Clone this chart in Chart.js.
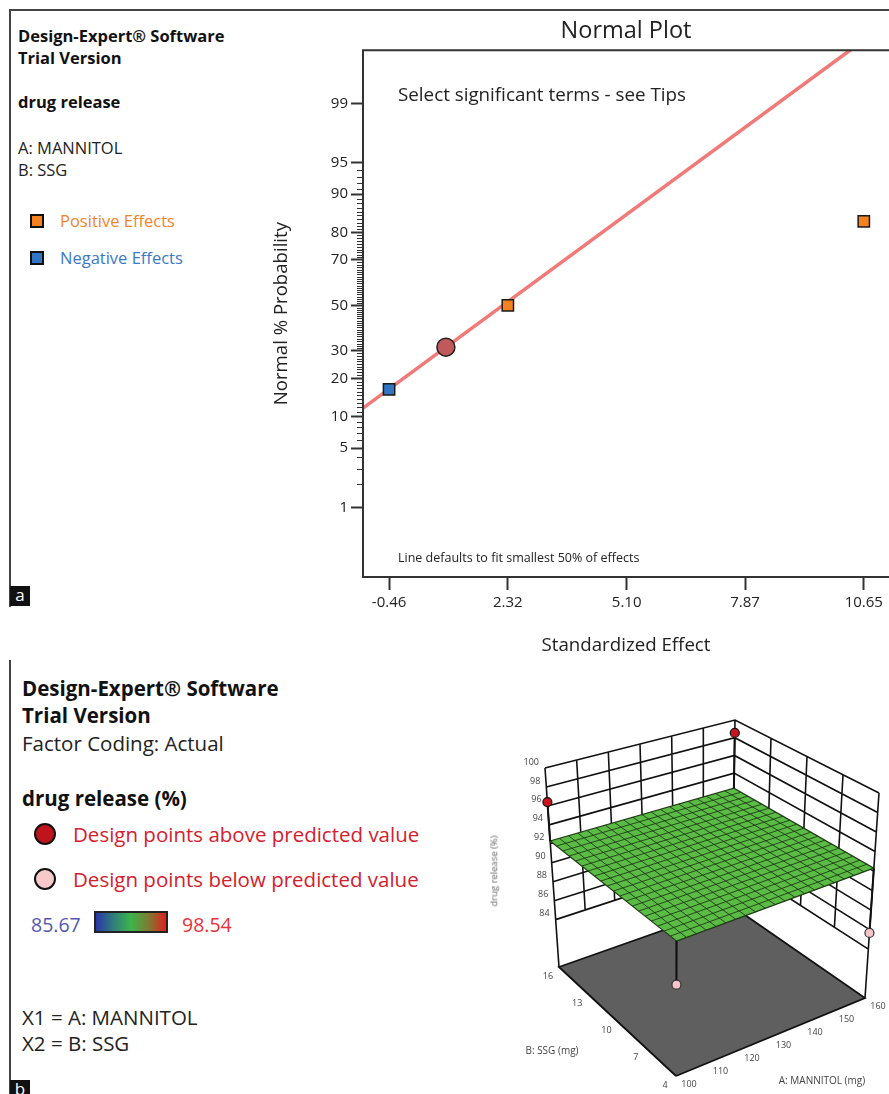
<!DOCTYPE html>
<html>
<head>
<meta charset="utf-8">
<script src="https://cdn.jsdelivr.net/npm/chart.js@4.4.1/dist/chart.umd.min.js"></script>
<style>
  body { margin: 0; background: #fff; font-family: "Open Sans", sans-serif; }
  #page { position: relative; width: 889px; height: 1094px; overflow: hidden; background: #fff; }
  .t { position: absolute; white-space: nowrap; line-height: 1; transform: translateY(-50%); color: #222; }
  .b { font-weight: bold; color: #111; }
  .sq { position: absolute; width: 14px; height: 14px; box-sizing: border-box; border: 2px solid #111; }
  .dot { position: absolute; width: 22px; height: 22px; box-sizing: border-box; border: 2.5px solid #111; border-radius: 50%; }
  .tag { position: absolute; width: 20px; height: 20px; background: #111; color: #fff; font-size: 17px; line-height: 17px; text-align: center; }
  canvas { position: absolute; }
</style>
</head>
<body>
<div id="page">
  <!-- panel a -->
  <div style="position:absolute;left:9px;top:9px;width:890px;height:596px;border-left:2px solid #444;border-top:2px solid #444;"></div>
  <div class="tag" style="left:10px;top:586px;">a</div>
  <div class="t b" style="left:18px;top:36px;font-size:16.5px;">Design-Expert® Software</div>
  <div class="t b" style="left:18px;top:58px;font-size:16.5px;">Trial Version</div>
  <div class="t b" style="left:18px;top:102px;font-size:16.5px;">drug release</div>
  <div class="t" style="left:18px;top:148px;font-size:16.5px;">A: MANNITOL</div>
  <div class="t" style="left:18px;top:170px;font-size:16.5px;">B: SSG</div>
  <div class="sq" style="left:30px;top:214px;background:#f5821f;"></div>
  <div class="t" style="left:60px;top:221px;font-size:16.5px;color:#f0842a;">Positive Effects</div>
  <div class="sq" style="left:30px;top:251px;background:#3175c4;"></div>
  <div class="t" style="left:60px;top:258px;font-size:16.5px;color:#3b78c8;">Negative Effects</div>
  <canvas id="normal" width="629" height="650" style="left:260px;top:10px;"></canvas>
  <div class="t" style="left:398px;top:94px;font-size:18.8px;">Select significant terms - see Tips</div>
  <div class="t" style="left:398px;top:558px;font-size:12.5px;">Line defaults to fit smallest 50% of effects</div>

  <!-- panel b -->
  <div style="position:absolute;left:9px;top:660px;width:2px;height:434px;background:#444;"></div>
  <div class="tag" style="left:10px;top:1080px;">b</div>
  <div class="t b" style="left:22px;top:688px;font-size:20.5px;">Design-Expert® Software</div>
  <div class="t b" style="left:22px;top:715px;font-size:20.5px;">Trial Version</div>
  <div class="t" style="left:22px;top:743px;font-size:20.5px;">Factor Coding: Actual</div>
  <div class="t b" style="left:22px;top:798px;font-size:20.5px;">drug release (%)</div>
  <div class="dot" style="left:34px;top:823px;background:#c0141c;"></div>
  <div class="t" style="left:73px;top:834px;font-size:20.5px;color:#d3202e;">Design points above predicted value</div>
  <div class="dot" style="left:34px;top:868px;background:#f7c9c9;"></div>
  <div class="t" style="left:73px;top:879px;font-size:20.5px;color:#d3202e;">Design points below predicted value</div>
  <div class="t" style="left:31px;top:925px;font-size:19.5px;color:#5357b0;">85.67</div>
  <div style="position:absolute;left:94px;top:911px;width:74px;height:22px;box-sizing:border-box;border:2px solid #222;background:linear-gradient(to right,#2a36a8 0%,#2f7f7a 25%,#3cb44a 50%,#7f7a32 75%,#e02020 100%);"></div>
  <div class="t" style="left:182px;top:925px;font-size:19.5px;color:#e8323a;">98.54</div>
  <div class="t" style="left:22px;top:1017px;font-size:20.5px;">X1 = A: MANNITOL</div>
  <div class="t" style="left:22px;top:1043px;font-size:20.5px;">X2 = B: SSG</div>
  <canvas id="surface" width="429" height="404" style="left:460px;top:690px;"></canvas>
  <div class="t" style="left:494px;top:871px;font-size:9.5px;color:#666;transform:translate(-50%,-50%) rotate(-90deg);">drug release (%)</div>
  <div class="t" style="left:552px;top:1050px;font-size:10px;color:#444;transform:translate(-50%,-50%);">B: SSG (mg)</div>
  <div class="t" style="left:822px;top:1080px;font-size:10px;color:#444;transform:translate(-50%,-50%);">A: MANNITOL (mg)</div>
</div>

<script>
// ---- panel a: normal plot of effects ----
const effectTicks = [-0.46, 2.32, 5.10, 7.87, 10.65];
const probTicks = [1, 5, 10, 20, 30, 50, 70, 80, 90, 95, 99];
const probMinor = [2, 3, 4, 6, 7, 8, 9, 11, 12, 13, 14, 15, 16, 17, 18, 19, 21, 22, 23, 24, 25, 26, 27, 28, 29,
  31, 32, 33, 34, 35, 36, 37, 38, 39, 40, 41, 42, 43, 44, 45, 46, 47, 48, 49, 51, 52, 53, 54, 55, 56, 57, 58, 59,
  60, 61, 62, 63, 64, 65, 66, 67, 68, 69, 71, 72, 73, 74, 75, 76, 77, 78, 79, 81, 82, 83, 84, 85, 86, 87, 88, 89,
  91, 92, 93, 94];
const positiveEffect = [2.32, 10.65];
const positiveProb = [50, 83.33];
const negativeEffect = [-0.46];
const negativeProb = [16.67];
const errorEffect = [0.87];
const errorProb = [31.5];
const fitLineEffect = [-1.07, 10.35];
const fitLineProb = [11.8, 99.84];

// ---- panel b: response surface ----
const mannitolTicks = [100, 110, 120, 130, 140, 150, 160];
const ssgTicks = [4, 7, 10, 13, 16];
const releaseTicks = [84, 86, 88, 90, 92, 94, 96, 98, 100];
const designMannitol = [100, 160, 100, 160];
const designSSG = [4, 4, 16, 16];
const designRelease = [88.0, 85.67, 96.4, 98.54];
const predictedRelease = 92.3;
const meshSteps = 20;

Chart.defaults.font.family = "'Open Sans', sans-serif";
Chart.defaults.color = "#222";

// inverse normal cdf, percent in
function probit(pct) {
  const p = pct / 100;
  const a = [-39.6968302866538, 220.946098424521, -275.928510446969, 138.357751867269, -30.6647980661472, 2.50662827745924];
  const b = [-54.4760987982241, 161.585836858041, -155.698979859887, 66.8013118877197, -13.2806815528857];
  const c = [-0.00778489400243029, -0.322396458041136, -2.40075827716184, -2.54973253934373, 4.37466414146497, 2.93816398269878];
  const d = [0.00778469570904146, 0.32246712907004, 2.445134137143, 3.75440866190742];
  const tail = q => (((((c[0]*q+c[1])*q+c[2])*q+c[3])*q+c[4])*q+c[5]) / ((((d[0]*q+d[1])*q+d[2])*q+d[3])*q+1);
  if (p < 0.02425) return tail(Math.sqrt(-2 * Math.log(p)));
  if (p > 1 - 0.02425) return -tail(Math.sqrt(-2 * Math.log(1 - p)));
  const q = p - 0.5, r = q * q;
  return (((((a[0]*r+a[1])*r+a[2])*r+a[3])*r+a[4])*r+a[5])*q / (((((b[0]*r+b[1])*r+b[2])*r+b[3])*r+b[4])*r+1);
}

const toPoints = (xs, ps) => xs.map((x, i) => ({x: x, y: probit(ps[i])}));

const plotFrame = {
  id: "plotFrame",
  afterDraw(chart) {
    const {ctx, chartArea: ca, scales} = chart;
    ctx.save();
    ctx.strokeStyle = "#333";
    ctx.lineWidth = 2;
    ctx.beginPath();
    ctx.moveTo(ca.right + 2, ca.top);
    ctx.lineTo(ca.left, ca.top);
    ctx.lineTo(ca.left, ca.bottom);
    ctx.lineTo(ca.right + 2, ca.bottom);
    ctx.stroke();
    // minor probability ticks
    ctx.lineWidth = 1;
    ctx.beginPath();
    probMinor.forEach(p => {
      const y = Math.round(scales.y.getPixelForValue(probit(p))) + 0.5;
      ctx.moveTo(ca.left - 6, y);
      ctx.lineTo(ca.left, y);
    });
    ctx.stroke();
    ctx.restore();
  }
};

new Chart(document.getElementById("normal"), {
  type: "scatter",
  data: {
    datasets: [
      {
        data: toPoints(positiveEffect, positiveProb),
        pointStyle: "rect", pointRadius: 8, backgroundColor: "#f5821f",
        borderColor: "#1a1a1a", borderWidth: 1.5, order: 1,
      },
      {
        data: toPoints(negativeEffect, negativeProb),
        pointStyle: "rect", pointRadius: 8, backgroundColor: "#3175c4",
        borderColor: "#1a1a1a", borderWidth: 1.5, order: 1,
      },
      {
        data: toPoints(errorEffect, errorProb),
        pointStyle: "circle", pointRadius: 9, backgroundColor: "#c0595b",
        borderColor: "#222", borderWidth: 1.5, order: 2,
      },
      {
        data: toPoints(fitLineEffect, fitLineProb),
        showLine: true, borderColor: "#f07a78", borderWidth: 3.5, pointRadius: 0, order: 3,
      },
    ],
  },
  options: {
    responsive: false,
    animation: false,
    layout: { padding: 0, autoPadding: false },
    plugins: {
      legend: { display: false },
      tooltip: { enabled: false },
      title: {
        display: true, text: "Normal Plot", fullSize: false, color: "#222",
        font: { size: 23.5, weight: "normal" }, padding: { top: 7, bottom: 5 },
      },
    },
    scales: {
      x: {
        type: "linear", min: -1.07, max: 11.24,
        afterBuildTicks: s => { s.ticks = effectTicks.map(v => ({ value: v })); },
        afterFit: s => { s.height = 83; s.paddingLeft = 0; s.paddingRight = 0; },
        ticks: { callback: v => v.toFixed(2), font: { size: 15 }, color: "#222", padding: 4, maxRotation: 0, autoSkip: false },
        grid: { drawOnChartArea: false, drawTicks: true, tickLength: 13, tickWidth: 2, tickColor: "#333" },
        border: { display: false },
        title: { display: true, text: "Standardized Effect", font: { size: 18.7 }, color: "#222", padding: { top: 4, bottom: 3 } },
      },
      y: {
        type: "linear", min: -3.13, max: 2.94,
        afterBuildTicks: s => { s.ticks = probTicks.map(p => ({ value: probit(p) })); },
        afterFit: s => { s.width = 103; s.paddingTop = 0; s.paddingBottom = 0; },
        ticks: { callback: (v, i) => String(probTicks[i]), font: { size: 15 }, color: "#222", padding: 3, autoSkip: false },
        grid: { drawOnChartArea: false, drawTicks: true, tickLength: 12, tickWidth: 2, tickColor: "#333" },
        border: { display: false },
        title: { display: true, text: "Normal % Probability", font: { size: 18.6 }, color: "#222", padding: { top: 11, bottom: 4 } },
      },
    },
  },
  plugins: [plotFrame],
});

// ---- 3D box projection ----
const boxA = [100, 160], boxB = [4, 16], boxZ = [79, 100];
// screen corners of the box, [b index][a index]
const viewFloor = [[[676, 1076], [865, 998]], [[559, 967], [732, 906]]];
const viewTop = [[[677, 863], [879, 793]], [[545, 768], [735, 720]]];

function project(a, b, z) {
  const u = (a - boxA[0]) / (boxA[1] - boxA[0]);
  const v = (b - boxB[0]) / (boxB[1] - boxB[0]);
  const w = (z - boxZ[0]) / (boxZ[1] - boxZ[0]);
  const lerp = (p, q, t) => [p[0] + (q[0] - p[0]) * t, p[1] + (q[1] - p[1]) * t];
  const face = f => lerp(lerp(f[0][0], f[0][1], u), lerp(f[1][0], f[1][1], u), v);
  const pt = lerp(face(viewFloor), face(viewTop), w);
  return { x: pt[0], y: pt[1] };
}

const gap = { x: null, y: null };
const aLo = boxA[0], aHi = boxA[1], bLo = boxB[0], bHi = boxB[1];
const zLo = releaseTicks[0], zHi = releaseTicks[releaseTicks.length - 1];

const floorPoly = [project(aLo, bLo, boxZ[0]), project(aLo, bHi, boxZ[0]), project(aHi, bHi, boxZ[0]),
  project(aHi, bLo, boxZ[0]), project(aLo, bLo, boxZ[0])];

const wallLines = [];
releaseTicks.forEach(z => {
  wallLines.push(project(aLo, bHi, z), project(aHi, bHi, z), project(aHi, bLo, z), gap);
});
mannitolTicks.slice(1, -1).forEach(a => wallLines.push(project(a, bHi, zLo), project(a, bHi, zHi), gap));
ssgTicks.slice(1, -1).forEach(b => wallLines.push(project(aHi, b, zLo), project(aHi, b, zHi), gap));
[[aLo, bHi], [aHi, bHi], [aHi, bLo]].forEach(([a, b]) => wallLines.push(project(a, b, boxZ[0]), project(a, b, zHi), gap));

const surfacePoly = [project(aLo, bLo, predictedRelease), project(aLo, bHi, predictedRelease),
  project(aHi, bHi, predictedRelease), project(aHi, bLo, predictedRelease), project(aLo, bLo, predictedRelease)];

const meshLines = [];
for (let i = 1; i < meshSteps; i++) {
  const a = aLo + (aHi - aLo) * i / meshSteps;
  const b = bLo + (bHi - bLo) * i / meshSteps;
  meshLines.push(project(a, bLo, predictedRelease), project(a, bHi, predictedRelease), gap);
  meshLines.push(project(aLo, b, predictedRelease), project(aHi, b, predictedRelease), gap);
}

const stems = [];
const above = [], below = [];
designRelease.forEach((z, i) => {
  const p = project(designMannitol[i], designSSG[i], z);
  stems.push(project(designMannitol[i], designSSG[i], predictedRelease), p, gap);
  (z >= predictedRelease ? above : below).push(p);
});

const boxLabels = {
  id: "boxLabels",
  afterDraw(chart) {
    const { ctx, scales: { x, y } } = chart;
    const px = p => [x.getPixelForValue(p.x), y.getPixelForValue(p.y)];
    ctx.save();
    ctx.fillStyle = "#444";
    ctx.font = "9px 'Open Sans', sans-serif";
    ctx.textBaseline = "middle";
    ctx.textAlign = "right";
    releaseTicks.forEach(z => {
      const [cx, cy] = px(project(aLo, bHi, z));
      ctx.fillText(String(z), cx - 6, cy - 6);
    });
    ctx.textAlign = "center";
    ssgTicks.forEach(b => {
      const [cx, cy] = px(project(aLo, b, boxZ[0]));
      ctx.fillText(String(b), cx - 11, cy + 9);
    });
    mannitolTicks.forEach(a => {
      const [cx, cy] = px(project(a, bLo, boxZ[0]));
      ctx.fillText(String(a), cx + 13, cy + 8);
    });
    ctx.restore();
  }
};

const lineSet = (data, color, width, order, extra) => Object.assign({
  data: data, showLine: true, borderColor: color, borderWidth: width,
  pointRadius: 0, order: order, clip: false, spanGaps: false,
}, extra || {});

new Chart(document.getElementById("surface"), {
  type: "scatter",
  data: {
    datasets: [
      { data: above, pointRadius: 4.5, backgroundColor: "#c8141e", borderColor: "#111", borderWidth: 1.2, order: 1, clip: false },
      { data: below, pointRadius: 4.5, backgroundColor: "#f6c5c8", borderColor: "#333", borderWidth: 1.2, order: 1, clip: false },
      lineSet(stems, "#111", 2, 2),
      lineSet(meshLines, "#1f3a16", 0.9, 3),
      lineSet(surfacePoly, "#1f3a16", 1.2, 4, { fill: "shape", backgroundColor: "#5abb45" }),
      lineSet(wallLines, "#111", 1.6, 5),
      lineSet(floorPoly, "#111", 1.8, 6, { fill: "shape", backgroundColor: "#5f5f5f" }),
    ],
  },
  options: {
    responsive: false,
    animation: false,
    layout: { padding: 0, autoPadding: false },
    plugins: { legend: { display: false }, tooltip: { enabled: false } },
    scales: {
      x: { type: "linear", min: 460, max: 889, display: false },
      y: { type: "linear", min: 690, max: 1094, reverse: true, display: false },
    },
  },
  plugins: [boxLabels],
});
</script>
</body>
</html>
